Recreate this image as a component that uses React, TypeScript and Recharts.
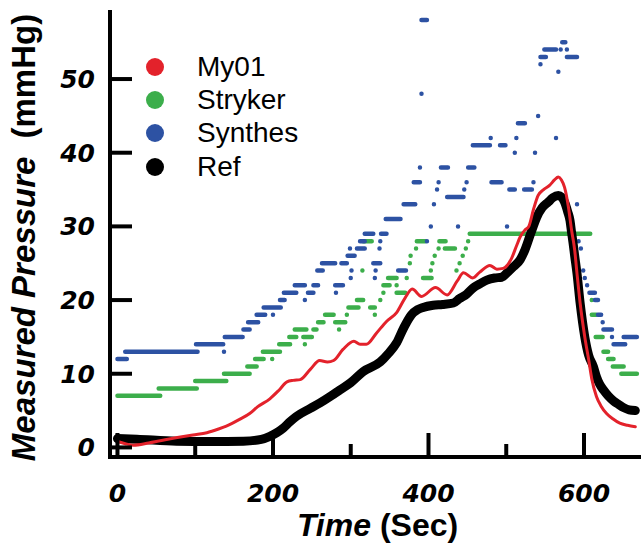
import { ComposedChart, Legend, Line, XAxis, YAxis } from "recharts";

const timeTicks = [0, 100, 200, 300, 400, 500, 600];
const pressureTicks = [0, 10, 20, 30, 40, 50];
const seriesNames = ["My01", "Stryker", "Synthes", "Ref"];

// [time (s), pressure (mmHg)]
const my01: [number, number][] = [
  [0, 0.8], [10, 0.5], [20, 0.3], [40, 0.6], [55, 0.9], [75, 1.3], [97, 1.7],
  [115, 2.0], [130, 2.5], [140, 2.9], [157, 3.8], [170, 4.6], [180, 5.5],
  [196, 6.6], [208, 7.8], [218, 8.9], [226, 9.1], [235, 9.2], [248, 10.6],
  [260, 11.8], [270, 11.6], [278, 11.8], [290, 13.3], [304, 14.4], [312, 14.0],
  [320, 14.0], [333, 15.5], [346, 17.1], [359, 18.3], [370, 20.3], [379, 21.5],
  [391, 20.5], [409, 21.7], [424, 20.7], [437, 22.6], [445, 23.7], [457, 23.0],
  [466, 23.8], [479, 24.7], [488, 24.2], [496, 24.3], [507, 25.7], [513, 27.3],
  [518, 28.6], [524, 29.5], [529, 30.0], [535, 32.3], [541, 34.2], [548, 35.0],
  [556, 35.6], [562, 36.3], [567, 36.7], [571, 36.3], [575, 35.3], [580, 32.6],
  [584, 29.5], [588, 26.8], [591, 23.6], [595, 19.6], [601, 15.0], [606, 11.9],
  [610, 9.3], [616, 6.9], [622, 5.6], [629, 4.6], [637, 3.9], [646, 3.3],
  [656, 3.0], [666, 2.8],
];

const ref: [number, number][] = [
  [0, 1.2], [25, 1.1], [76, 0.85], [120, 0.8], [162, 0.85], [185, 1.1],
  [196, 1.5], [205, 2.0], [213, 2.6], [222, 3.5], [230, 4.2], [248, 5.3],
  [260, 6.0], [275, 7.0], [286, 7.8], [300, 8.8], [316, 10.3], [338, 11.6],
  [348, 12.7], [359, 14.2], [368, 16.2], [378, 18.0], [386, 18.7], [393, 19.0],
  [406, 19.3], [418, 19.4], [432, 19.6], [440, 20.2], [449, 20.8], [458, 21.7],
  [466, 22.2], [475, 22.7], [485, 23.0], [494, 23.1], [502, 23.8], [509, 24.5],
  [518, 25.5], [524, 26.8], [532, 29.2], [539, 31.2], [546, 32.5], [554, 33.3],
  [560, 33.9], [567, 34.2], [571, 34.0], [575, 33.3], [579, 32.0], [582, 30.8],
  [584, 29.2], [586, 27.7], [588, 26.0], [591, 23.6], [595, 19.6], [601, 15.0],
  [606, 12.5], [612, 11.0], [616, 9.6], [620, 8.6], [625, 7.8], [631, 7.0],
  [638, 6.3], [645, 5.8], [651, 5.4], [658, 5.1], [666, 5.0],
];

// quantized gauges: [start (s), end (s), mmHg] for each flat run of readings
const stryker: [number, number, number][] = [
  [0, 55, 7], [53, 102, 8], [100, 140, 9], [137, 170, 10], [167, 179, 11],
  [177, 188, 12], [199, 199, 12], [187, 209, 13], [208, 222, 14], [241, 241, 14],
  [221, 230, 15], [239, 250, 15], [228, 243, 16], [252, 256, 16], [285, 285, 16],
  [258, 265, 17], [280, 293, 17], [267, 278, 18], [295, 295, 18], [331, 331, 18],
  [297, 310, 19], [325, 331, 19], [308, 316, 20], [338, 338, 20], [342, 342, 21],
  [359, 370, 21], [342, 350, 22], [359, 359, 22], [348, 359, 23], [372, 372, 23],
  [393, 404, 23], [315, 315, 24], [403, 403, 24], [436, 436, 24], [376, 376, 25],
  [405, 405, 25], [440, 440, 25], [377, 377, 26], [408, 408, 26], [444, 444, 26],
  [384, 384, 27], [413, 413, 27], [421, 434, 27], [448, 448, 27], [316, 327, 28],
  [385, 396, 28], [414, 422, 28], [451, 451, 28], [453, 608, 29], [610, 610, 20],
  [610, 616, 18], [615, 624, 15], [625, 631, 13], [631, 638, 12], [637, 651, 11],
  [648, 668, 10],
];

const synthes: [number, number, number][] = [
  [0, 12, 12], [10, 103, 13], [101, 136, 14], [137, 137, 13], [138, 161, 15],
  [162, 170, 16], [168, 181, 17], [179, 190, 18], [200, 200, 18], [188, 210, 19],
  [209, 215, 20], [241, 241, 20], [214, 230, 21], [245, 252, 21], [281, 281, 21],
  [228, 241, 22], [252, 258, 22], [280, 290, 22], [300, 300, 23], [331, 331, 23],
  [257, 264, 24], [301, 301, 24], [332, 332, 24], [361, 371, 24], [263, 280, 25],
  [288, 295, 25], [329, 338, 25], [296, 305, 26], [299, 299, 27], [308, 318, 27],
  [337, 337, 27], [312, 318, 28], [338, 338, 28], [398, 398, 28], [318, 329, 29],
  [339, 346, 29], [403, 403, 30], [438, 438, 30], [501, 501, 30], [345, 364, 31],
  [368, 383, 33], [407, 407, 33], [591, 591, 33], [424, 445, 34], [411, 411, 35],
  [446, 446, 35], [504, 511, 35], [523, 533, 35], [381, 389, 36], [413, 413, 36],
  [449, 449, 36], [481, 494, 36], [535, 535, 36], [389, 389, 38], [416, 425, 38],
  [451, 459, 38], [511, 511, 40], [537, 537, 40], [457, 479, 41], [492, 499, 41],
  [480, 480, 42], [513, 513, 42], [564, 564, 42], [515, 524, 44], [541, 541, 45],
  [391, 391, 48], [567, 567, 51], [544, 544, 52], [544, 551, 53], [578, 591, 53],
  [549, 564, 54], [570, 570, 54], [578, 578, 54], [572, 576, 55], [391, 398, 58],
  [593, 593, 28], [596, 596, 27], [599, 599, 24], [601, 601, 23], [604, 604, 22],
  [607, 614, 21], [614, 618, 20], [618, 622, 18], [624, 624, 17], [625, 636, 16],
  [636, 636, 15], [651, 668, 15], [638, 653, 14],
];

const colors: Record<string, string> = {
  My01: "#e3222b",
  Stryker: "#3cae4b",
  Synthes: "#2d52a3",
  Ref: "#000000",
};

const toPoints = (pts: [number, number][]) => pts.map(([t, v]) => ({ t, v }));
// each run becomes its own segment, broken from the next by a null
const toRuns = (runs: [number, number, number][]) =>
  runs.flatMap(([a, b, v]) => [
    { t: a, v },
    { t: b, v },
    { t: b, v: null },
  ]);

const tickFont = "'DejaVu Sans', sans-serif";
const titleFont = "'Liberation Sans', Arial, sans-serif";
const frame = { stroke: "#000", strokeWidth: 4, strokeLinecap: "square" as const };

function BottomTick({ x, y, payload }: any) {
  const major = payload.value % 200 === 0;
  return (
    <g>
      <line x1={x} y1={y} x2={x} y2={y - (major ? 24 : 13)} stroke="#000" strokeWidth={4} />
      {major && (
        <text x={x} y={y + 45} textAnchor="middle" fontFamily={tickFont} fontSize={25} fontWeight="bold" fontStyle="italic" fill="#000">
          {payload.value}
        </text>
      )}
    </g>
  );
}

function TopTick({ x, y, payload }: any) {
  const major = payload.value % 200 === 0;
  return <line x1={x} y1={y} x2={x} y2={y + (major ? 22 : 12)} stroke="#000" strokeWidth={4} />;
}

function LeftTick({ x, y, payload }: any) {
  return (
    <g>
      <line x1={x} y1={y} x2={x + 22} y2={y} stroke="#000" strokeWidth={4} />
      <text x={x - 15} y={y + 9} textAnchor="end" fontFamily={tickFont} fontSize={25} fontWeight="bold" fontStyle="italic" fill="#000">
        {payload.value}
      </text>
    </g>
  );
}

function RightTick({ x, y }: any) {
  return <line x1={x} y1={y} x2={x - 20} y2={y} stroke="#000" strokeWidth={4} />;
}

function TimeTitle({ viewBox }: any) {
  return (
    <text x={viewBox.x + viewBox.width / 2 + 2} y={viewBox.y + 79} textAnchor="middle" fontFamily={titleFont} fontSize={32} fontWeight="bold" fill="#000">
      <tspan fontStyle="italic">Time</tspan> (Sec)
    </text>
  );
}

function PressureTitle({ viewBox }: any) {
  const cx = 35;
  const cy = viewBox.y + viewBox.height / 2 + 3;
  return (
    <text x={cx} y={cy} transform={`rotate(-90 ${cx} ${cy})`} textAnchor="middle" fontFamily={titleFont} fontSize={33} fontWeight="bold" fill="#000">
      <tspan fontStyle="italic">Measured Pressure</tspan>
      <tspan dx={9}> (mmHg)</tspan>
    </text>
  );
}

function LegendContent({ payload }: any) {
  const items = [...(payload ?? [])].sort(
    (a, b) => seriesNames.indexOf(a.value) - seriesNames.indexOf(b.value)
  );
  return (
    <div style={{ fontFamily: titleFont, fontSize: 28, color: "#000" }}>
      {items.map((item) => (
        <div key={item.value} style={{ display: "flex", alignItems: "center", height: 33.3 }}>
          <span style={{ width: 18, height: 18, borderRadius: "50%", background: item.color, marginRight: 33 }} />
          <span>{item.value}</span>
        </div>
      ))}
    </div>
  );
}

export default function App() {
  const xDomain = [-9.6, 673.3];
  const yDomain = [-1.3, 59.1];
  return (
    <div style={{ position: "absolute", left: 0, top: 0, background: "#fff" }}>
      <ComposedChart width={641} height={543} margin={{ top: 12, right: 0, bottom: 0, left: 0 }}>
        <XAxis
          xAxisId="bottom"
          dataKey="t"
          type="number"
          domain={xDomain}
          allowDataOverflow
          ticks={timeTicks}
          interval={0}
          height={86}
          tickSize={0}
          tickMargin={0}
          tickLine={false}
          axisLine={frame}
          tick={BottomTick}
          label={<TimeTitle />}
        />
        <XAxis
          xAxisId="top"
          orientation="top"
          dataKey="t"
          type="number"
          domain={xDomain}
          allowDataOverflow
          ticks={timeTicks}
          interval={0}
          height={0}
          tickSize={0}
          tickMargin={0}
          tickLine={false}
          axisLine={frame}
          tick={TopTick}
        />
        <YAxis
          yAxisId="left"
          type="number"
          domain={yDomain}
          allowDataOverflow
          ticks={pressureTicks}
          interval={0}
          width={110}
          tickSize={0}
          tickMargin={0}
          tickLine={false}
          axisLine={frame}
          tick={LeftTick}
          label={<PressureTitle />}
        />
        <YAxis
          yAxisId="right"
          orientation="right"
          type="number"
          domain={yDomain}
          allowDataOverflow
          ticks={pressureTicks}
          interval={0}
          width={0}
          tickSize={0}
          tickMargin={0}
          tickLine={false}
          axisLine={false}
          tick={RightTick}
        />
        <Legend
          layout="vertical"
          align="center"
          verticalAlign="middle"
          wrapperStyle={{ position: "absolute", left: 146, top: 50, width: 200, height: 140 }}
          content={LegendContent}
        />
        <Line
          xAxisId="bottom"
          yAxisId="left"
          name="Stryker"
          data={toRuns(stryker)}
          dataKey="v"
          type="linear"
          stroke={colors.Stryker}
          strokeWidth={4.5}
          strokeLinecap="round"
          dot={false}
          activeDot={false}
          isAnimationActive={false}
        />
        <Line
          xAxisId="bottom"
          yAxisId="left"
          name="Synthes"
          data={toRuns(synthes)}
          dataKey="v"
          type="linear"
          stroke={colors.Synthes}
          strokeWidth={4.5}
          strokeLinecap="round"
          dot={false}
          activeDot={false}
          isAnimationActive={false}
        />
        <Line
          xAxisId="bottom"
          yAxisId="left"
          name="Ref"
          data={toPoints(ref)}
          dataKey="v"
          type="monotone"
          stroke={colors.Ref}
          strokeWidth={9}
          strokeLinecap="round"
          strokeLinejoin="round"
          dot={false}
          activeDot={false}
          isAnimationActive={false}
        />
        <Line
          xAxisId="bottom"
          yAxisId="left"
          name="My01"
          data={toPoints(my01)}
          dataKey="v"
          type="monotone"
          stroke={colors.My01}
          strokeWidth={3}
          strokeLinecap="round"
          strokeLinejoin="round"
          dot={false}
          activeDot={false}
          isAnimationActive={false}
        />
      </ComposedChart>
    </div>
  );
}
